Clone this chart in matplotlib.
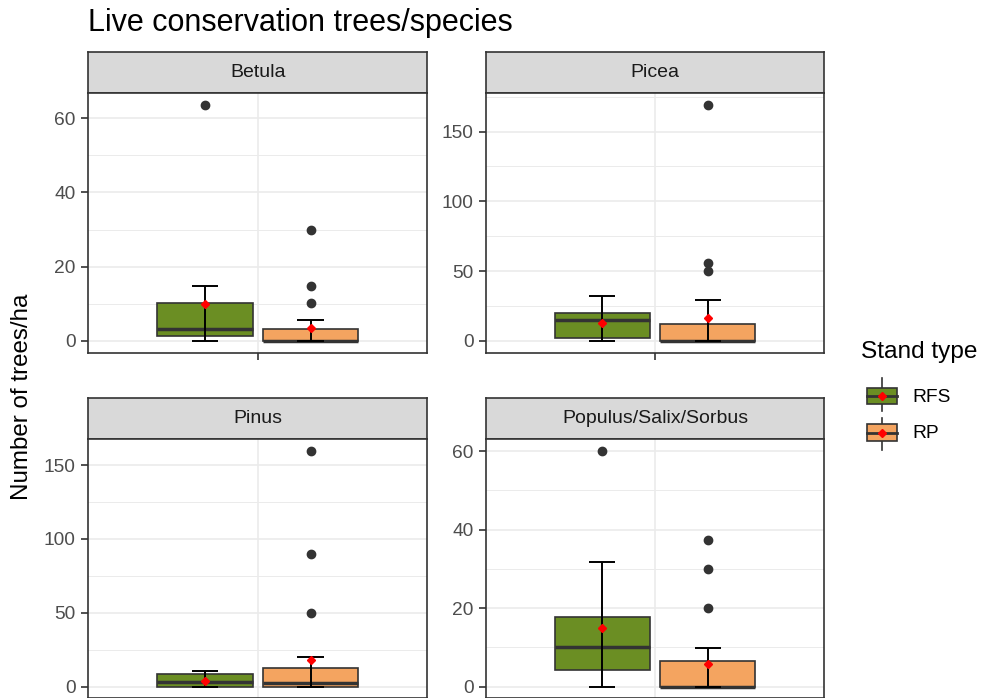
#!/usr/bin/env python3
"""Live conservation trees per species: faceted boxplots RFS vs RP."""

import matplotlib

matplotlib.use("Agg")
import matplotlib.pyplot as plt
from matplotlib.patches import Rectangle

plt.rcParams["font.family"] = ["Liberation Sans", "DejaVu Sans"]

# ---- data ----
species = ["Betula", "Picea", "Pinus", "Populus/Salix/Sorbus"]
stand_types = ["RFS", "RP"]

# per species: [RFS, RP]
whislo = {"Betula": [0, 0], "Picea": [0, 0], "Pinus": [0, 0], "Populus/Salix/Sorbus": [0, 0]}
q1 = {"Betula": [1.3, 0], "Picea": [2.2, 0], "Pinus": [0, 0], "Populus/Salix/Sorbus": [4.3, 0]}
median = {"Betula": [3.1, 0], "Picea": [14.9, 0], "Pinus": [2.9, 2.4], "Populus/Salix/Sorbus": [10.2, 0]}
q3 = {"Betula": [10.3, 3.3], "Picea": [19.7, 12.2], "Pinus": [8.2, 12.5], "Populus/Salix/Sorbus": [17.8, 6.4]}
whishi = {"Betula": [14.8, 5.6], "Picea": [31.9, 29.4], "Pinus": [10.2, 19.7], "Populus/Salix/Sorbus": [31.7, 9.9]}
means = {"Betula": [9.9, 3.4], "Picea": [12.9, 16.3], "Pinus": [3.8, 17.9], "Populus/Salix/Sorbus": [14.9, 5.8]}
outliers = {
    "Betula": [[63.7], [10.2, 14.8, 30.0]],
    "Picea": [[], [50.2, 55.5, 169.4]],
    "Pinus": [[], [49.5, 90.0, 159.5]],
    "Populus/Salix/Sorbus": [[60.0], [20.0, 30.0, 37.3]],
}
major_ticks = {
    "Betula": [0, 20, 40, 60],
    "Picea": [0, 50, 100, 150],
    "Pinus": [0, 50, 100, 150],
    "Populus/Salix/Sorbus": [0, 20, 40, 60],
}

fills = ["#6B8E23", "#F4A460"]
EDGE = "#333333"

W, H = 982, 698
fig = plt.figure(figsize=(W / 100, H / 100), dpi=100)


def px_axes(left, top, right, bottom):
    return fig.add_axes([left / W, 1 - bottom / H, (right - left) / W, (bottom - top) / H])


# panel boxes in pixels: (left, right, strip_top, panel_top, panel_bottom)
panel_px = {
    "Betula": (88.3, 427.3, 52.0, 92.7, 352.7),
    "Picea": (486.0, 824.0, 52.0, 92.7, 352.7),
    "Pinus": (88.3, 427.3, 398.0, 439.3, 698.3),
    "Populus/Salix/Sorbus": (486.0, 824.0, 398.0, 439.3, 698.3),
}

positions = [0.8125, 1.1875]
box_w = 0.3375
cap_hw = 0.047

for sp in species:
    l, r, st, pt, pb = panel_px[sp]

    # strip
    sax = px_axes(l, st, r, pt)
    sax.set_facecolor("#D9D9D9")
    sax.set_xticks([])
    sax.set_yticks([])
    for s in sax.spines.values():
        s.set_color(EDGE)
        s.set_linewidth(1.2)
    sax.text(0.5, 0.5, sp, ha="center", va="center", fontsize=14, color="#1A1A1A",
             transform=sax.transAxes)

    ax = px_axes(l, pt, r, pb)
    for i in range(2):
        stats = [dict(med=median[sp][i], q1=q1[sp][i], q3=q3[sp][i],
                      whislo=whislo[sp][i], whishi=whishi[sp][i],
                      fliers=outliers[sp][i])]
        ax.bxp(stats, positions=[positions[i]], widths=[box_w], patch_artist=True,
               showcaps=False, manage_ticks=False,
               boxprops=dict(facecolor=fills[i], edgecolor=EDGE, linewidth=1.2),
               medianprops=dict(color=EDGE, linewidth=2.5, solid_capstyle="butt"),
               whiskerprops=dict(linestyle="none"),
               flierprops=dict(marker="o", markerfacecolor=EDGE, markeredgecolor=EDGE,
                               markersize=6),
               zorder=3)
        x = positions[i]
        ax.vlines(x, whislo[sp][i], whishi[sp][i], color="black", linewidth=1.4, zorder=4)
        ax.hlines([whislo[sp][i], whishi[sp][i]], x - cap_hw, x + cap_hw,
                  color="black", linewidth=1.4, zorder=4)
        ax.plot(x, means[sp][i], "D", color="red", markersize=4.5, zorder=5)

    top = max(max(outliers[sp][0] + outliers[sp][1] + whishi[sp]), 0)
    ax.set_ylim(-0.05 * top, top * 1.05)
    ax.set_xlim(0.4, 1.6)

    maj = major_ticks[sp]
    step = maj[1] - maj[0]
    minor = [m + step / 2 for m in [maj[0] - step] + maj if -0.05 * top < m + step / 2 < top * 1.05]
    ax.set_yticks(maj)
    ax.set_yticks(minor, minor=True)
    ax.set_xticks([1])
    ax.set_xticklabels([])

    ax.grid(True, which="major", color="#EBEBEB", linewidth=1.2, zorder=0)
    ax.grid(True, which="minor", axis="y", color="#EBEBEB", linewidth=0.7, zorder=0)
    ax.set_axisbelow(True)
    ax.tick_params(which="major", length=5, width=1.2, color=EDGE, labelcolor="#4D4D4D",
                   labelsize=13.8, pad=4)
    ax.tick_params(which="minor", length=0)
    for s in ax.spines.values():
        s.set_color(EDGE)
        s.set_linewidth(1.2)

# titles
fig.text(88.3 / W, 1 - 23 / H, "Live conservation trees/species", fontsize=22,
         ha="left", va="center", color="black")
fig.text(22 / W, 1 - 397 / H, "Number of trees/ha", fontsize=17.4, rotation=90,
         ha="center", va="center", color="black")

# legend drawn in pixel space
lax = fig.add_axes([0, 0, 1, 1], zorder=10)
lax.set_xlim(0, W)
lax.set_ylim(H, 0)
lax.axis("off")
lax.text(861.5, 352, "Stand type", fontsize=17.6, ha="left", va="center")
key_rows = [(378, 388, 404, 411), (417.7, 424.3, 441, 450)]
for i, (wt, bt, bb, wb) in enumerate(key_rows):
    cx = 881.7
    lax.plot([cx, cx], [wt, wb], color=EDGE, linewidth=1.2)
    lax.add_patch(Rectangle((866.7, bt), 30, bb - bt, facecolor=fills[i], edgecolor=EDGE,
                            linewidth=1.2, zorder=3))
    mid = (bt + bb) / 2
    lax.plot([866.7, 896.7], [mid, mid], color=EDGE, linewidth=2.0, zorder=4)
    lax.plot(cx, mid, "D", color="red", markersize=4.5, zorder=5)
    lax.text(912.5, mid + 1, stand_types[i], fontsize=13.8, ha="left", va="center")

fig.savefig("out.png", dpi=100)
